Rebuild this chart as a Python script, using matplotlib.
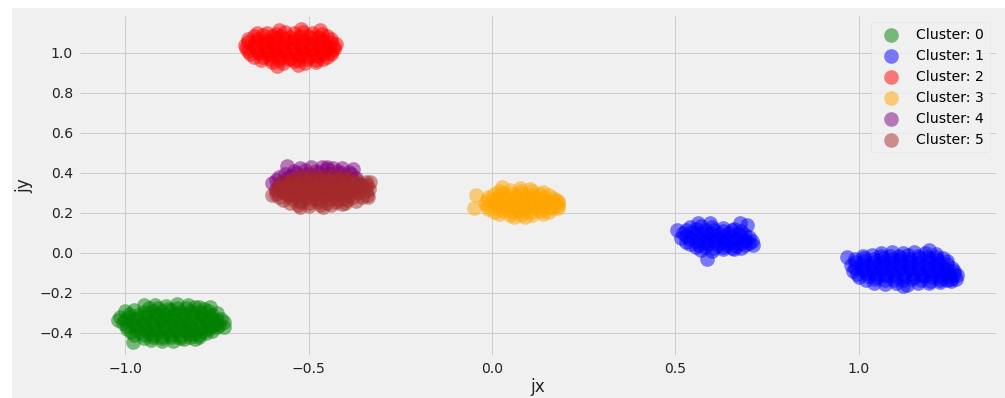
import matplotlib
matplotlib.use("Agg")
import matplotlib.pyplot as plt
from matplotlib.patches import Rectangle

plt.style.use("fivethirtyeight")

# ---- point coordinates (jx, jy) for each cluster ----
cluster_0 = [
    (-0.95, -0.262), (-0.92, -0.258), (-0.89, -0.265), (-0.86, -0.256), (-0.83, -0.262), (-0.80, -0.268), (-0.77, -0.272),
    (-1.00, -0.292), (-0.975, -0.287), (-0.95, -0.295), (-0.925, -0.288), (-0.90, -0.291), (-0.875, -0.286),
    (-0.85, -0.294), (-0.825, -0.289), (-0.80, -0.296), (-0.775, -0.290), (-0.75, -0.298),
    (-1.015, -0.322), (-0.99, -0.318), (-0.965, -0.325), (-0.94, -0.320), (-0.915, -0.316), (-0.89, -0.324),
    (-0.865, -0.319), (-0.84, -0.326), (-0.815, -0.321), (-0.79, -0.317), (-0.765, -0.325), (-0.74, -0.330),
    (-1.005, -0.352), (-0.98, -0.348), (-0.955, -0.355), (-0.93, -0.350), (-0.905, -0.346), (-0.88, -0.354),
    (-0.855, -0.349), (-0.83, -0.356), (-0.805, -0.351), (-0.78, -0.347), (-0.755, -0.355), (-0.73, -0.345),
    (-0.995, -0.382), (-0.97, -0.378), (-0.945, -0.385), (-0.92, -0.380), (-0.895, -0.376), (-0.87, -0.384),
    (-0.845, -0.379), (-0.82, -0.386), (-0.795, -0.381), (-0.77, -0.377), (-0.75, -0.372),
    (-0.975, -0.410), (-0.95, -0.412), (-0.925, -0.408), (-0.90, -0.415), (-0.875, -0.410), (-0.85, -0.413),
    (-0.825, -0.406), (-0.80, -0.409), (-0.78, -0.400),
    (-0.93, -0.435), (-0.90, -0.440), (-0.87, -0.438), (-0.84, -0.432), (-0.81, -0.428),
    (-0.98, -0.445), (-1.02, -0.335), (-0.73, -0.370),
    (-0.935, -0.276), (-0.91, -0.273), (-0.885, -0.278), (-0.86, -0.274), (-0.835, -0.277), (-0.81, -0.272), (-0.785, -0.279),
    (-0.99, -0.305), (-0.965, -0.308), (-0.94, -0.303), (-0.915, -0.306), (-0.89, -0.309), (-0.865, -0.304),
    (-0.84, -0.307), (-0.815, -0.302), (-0.79, -0.306), (-0.765, -0.310),
    (-1.00, -0.336), (-0.975, -0.333), (-0.95, -0.338), (-0.925, -0.334), (-0.90, -0.337), (-0.875, -0.332),
    (-0.85, -0.336), (-0.825, -0.339), (-0.80, -0.334), (-0.775, -0.337), (-0.75, -0.333),
    (-0.995, -0.366), (-0.97, -0.363), (-0.945, -0.368), (-0.92, -0.364), (-0.895, -0.367), (-0.87, -0.362),
    (-0.845, -0.366), (-0.82, -0.369), (-0.795, -0.364), (-0.77, -0.367), (-0.745, -0.360),
    (-0.985, -0.396), (-0.96, -0.393), (-0.935, -0.398), (-0.91, -0.394), (-0.885, -0.397), (-0.86, -0.392),
    (-0.835, -0.396), (-0.81, -0.399), (-0.785, -0.392), (-0.765, -0.388),
    (-0.95, -0.423), (-0.925, -0.420), (-0.90, -0.425), (-0.875, -0.421), (-0.85, -0.424), (-0.825, -0.419), (-0.80, -0.418),
]

cluster_1 = [
    # group near (0.6, 0.07)
    (0.54, 0.130), (0.57, 0.135), (0.60, 0.128), (0.63, 0.126), (0.66, 0.120),
    (0.52, 0.100), (0.545, 0.105), (0.57, 0.098), (0.595, 0.102), (0.62, 0.097), (0.645, 0.100), (0.67, 0.095), (0.69, 0.092),
    (0.515, 0.075), (0.54, 0.070), (0.565, 0.074), (0.59, 0.068), (0.615, 0.072), (0.64, 0.066), (0.665, 0.070),
    (0.69, 0.064), (0.71, 0.060),
    (0.54, 0.045), (0.565, 0.040), (0.59, 0.044), (0.615, 0.038), (0.64, 0.042), (0.665, 0.036), (0.69, 0.040),
    (0.57, 0.015), (0.60, 0.012), (0.63, 0.018), (0.66, 0.020),
    (0.505, 0.115), (0.562, 0.150), (0.595, 0.150), (0.695, 0.140), (0.676, 0.150), (0.712, 0.040), (0.586, -0.030),
    (0.53, 0.115), (0.555, 0.118), (0.58, 0.113), (0.605, 0.116), (0.63, 0.112), (0.655, 0.114), (0.68, 0.110),
    (0.53, 0.085), (0.555, 0.088), (0.58, 0.083), (0.605, 0.086), (0.63, 0.082), (0.655, 0.085), (0.68, 0.080), (0.70, 0.078),
    (0.53, 0.057), (0.555, 0.060), (0.58, 0.055), (0.605, 0.058), (0.63, 0.054), (0.655, 0.056), (0.68, 0.052), (0.70, 0.050),
    (0.555, 0.028), (0.58, 0.030), (0.605, 0.026), (0.63, 0.029), (0.655, 0.025), (0.68, 0.027),
    # group near (1.11, -0.075)
    (1.06, 0.000), (1.09, 0.005), (1.12, -0.002), (1.15, 0.004), (1.18, 0.000), (1.21, -0.005),
    (0.99, -0.030), (1.015, -0.025), (1.04, -0.032), (1.065, -0.027), (1.09, -0.030), (1.115, -0.024),
    (1.14, -0.031), (1.165, -0.026), (1.19, -0.030), (1.215, -0.035), (1.24, -0.040),
    (0.98, -0.060), (1.005, -0.055), (1.03, -0.062), (1.055, -0.057), (1.08, -0.060), (1.105, -0.054),
    (1.13, -0.061), (1.155, -0.056), (1.18, -0.060), (1.205, -0.065), (1.23, -0.070), (1.255, -0.075),
    (0.985, -0.090), (1.01, -0.085), (1.035, -0.092), (1.06, -0.087), (1.085, -0.090), (1.11, -0.084),
    (1.135, -0.091), (1.16, -0.086), (1.185, -0.090), (1.21, -0.095), (1.235, -0.100), (1.26, -0.105),
    (1.00, -0.120), (1.025, -0.115), (1.05, -0.122), (1.075, -0.117), (1.10, -0.120), (1.125, -0.114),
    (1.15, -0.121), (1.175, -0.116), (1.20, -0.120), (1.225, -0.125), (1.25, -0.128),
    (1.04, -0.150), (1.07, -0.155), (1.10, -0.152), (1.13, -0.158), (1.16, -0.150), (1.19, -0.148), (1.22, -0.145),
    (0.968, -0.020), (1.268, -0.110), (1.265, -0.130), (1.12, -0.165), (1.19, 0.015), (1.25, -0.140),
    (1.01, -0.015), (1.035, -0.012), (1.06, -0.017), (1.085, -0.013), (1.11, -0.016), (1.135, -0.011),
    (1.16, -0.015), (1.185, -0.018), (1.21, -0.020), (1.23, -0.024),
    (0.99, -0.045), (1.015, -0.042), (1.04, -0.047), (1.065, -0.043), (1.09, -0.046), (1.115, -0.041),
    (1.14, -0.045), (1.165, -0.048), (1.19, -0.044), (1.215, -0.050), (1.24, -0.055),
    (0.99, -0.075), (1.015, -0.072), (1.04, -0.077), (1.065, -0.073), (1.09, -0.076), (1.115, -0.071),
    (1.14, -0.075), (1.165, -0.078), (1.19, -0.074), (1.215, -0.080), (1.24, -0.085), (1.26, -0.090),
    (0.995, -0.105), (1.02, -0.102), (1.045, -0.107), (1.07, -0.103), (1.095, -0.106), (1.12, -0.101),
    (1.145, -0.105), (1.17, -0.108), (1.195, -0.104), (1.22, -0.110), (1.245, -0.115),
    (1.02, -0.135), (1.045, -0.132), (1.07, -0.137), (1.095, -0.133), (1.12, -0.136), (1.145, -0.131),
    (1.17, -0.135), (1.195, -0.138), (1.22, -0.134), (1.24, -0.136),
]

cluster_2 = [
    (-0.64, 1.098), (-0.615, 1.102), (-0.59, 1.096), (-0.565, 1.104), (-0.54, 1.099), (-0.515, 1.106),
    (-0.49, 1.100), (-0.465, 1.095), (-0.52, 1.120), (-0.58, 1.115), (-0.47, 1.115),
    (-0.665, 1.068), (-0.64, 1.072), (-0.615, 1.066), (-0.59, 1.074), (-0.565, 1.069), (-0.54, 1.071),
    (-0.515, 1.065), (-0.49, 1.073), (-0.465, 1.068), (-0.44, 1.072),
    (-0.675, 1.042), (-0.65, 1.038), (-0.625, 1.045), (-0.60, 1.040), (-0.575, 1.036), (-0.55, 1.044),
    (-0.525, 1.039), (-0.50, 1.046), (-0.475, 1.041), (-0.45, 1.037), (-0.425, 1.045),
    (-0.665, 1.012), (-0.64, 1.008), (-0.615, 1.015), (-0.59, 1.010), (-0.565, 1.006), (-0.54, 1.014),
    (-0.515, 1.009), (-0.49, 1.016), (-0.465, 1.011), (-0.44, 1.007), (-0.43, 1.020),
    (-0.65, 0.982), (-0.625, 0.978), (-0.60, 0.985), (-0.575, 0.980), (-0.55, 0.976), (-0.525, 0.984),
    (-0.50, 0.979), (-0.475, 0.986), (-0.45, 0.981),
    (-0.60, 0.955), (-0.57, 0.950), (-0.54, 0.958), (-0.51, 0.952), (-0.48, 0.956),
    (-0.586, 0.935), (-0.53, 0.940),
    (-0.65, 1.085), (-0.625, 1.088), (-0.60, 1.083), (-0.575, 1.086), (-0.55, 1.082), (-0.525, 1.087),
    (-0.50, 1.084), (-0.475, 1.081), (-0.45, 1.086),
    (-0.665, 1.055), (-0.64, 1.058), (-0.615, 1.053), (-0.59, 1.056), (-0.565, 1.052), (-0.54, 1.057),
    (-0.515, 1.054), (-0.49, 1.051), (-0.465, 1.056), (-0.44, 1.053),
    (-0.67, 1.025), (-0.645, 1.028), (-0.62, 1.023), (-0.595, 1.026), (-0.57, 1.022), (-0.545, 1.027),
    (-0.52, 1.024), (-0.495, 1.021), (-0.47, 1.026), (-0.445, 1.023), (-0.43, 1.030),
    (-0.66, 0.995), (-0.635, 0.998), (-0.61, 0.993), (-0.585, 0.996), (-0.56, 0.992), (-0.535, 0.997),
    (-0.51, 0.994), (-0.485, 0.991), (-0.46, 0.996), (-0.44, 0.993),
    (-0.63, 0.967), (-0.605, 0.970), (-0.58, 0.965), (-0.555, 0.968), (-0.53, 0.964), (-0.505, 0.969),
    (-0.48, 0.966), (-0.46, 0.968),
]

cluster_3 = [
    (0.02, 0.310), (0.05, 0.315), (0.08, 0.308), (0.11, 0.312), (0.14, 0.305), (0.027, 0.330), (0.075, 0.325), (0.104, 0.320),
    (-0.01, 0.280), (0.015, 0.285), (0.04, 0.278), (0.065, 0.283), (0.09, 0.279), (0.115, 0.286), (0.14, 0.280), (0.165, 0.275),
    (-0.02, 0.250), (0.005, 0.255), (0.03, 0.248), (0.055, 0.253), (0.08, 0.249), (0.105, 0.256), (0.13, 0.250),
    (0.155, 0.254), (0.18, 0.248),
    (-0.01, 0.220), (0.015, 0.225), (0.04, 0.218), (0.065, 0.223), (0.09, 0.219), (0.115, 0.226), (0.14, 0.220),
    (0.165, 0.224), (0.18, 0.225),
    (0.02, 0.195), (0.05, 0.190), (0.08, 0.188), (0.11, 0.192), (0.14, 0.195),
    (-0.045, 0.290), (-0.05, 0.225), (0.18, 0.260), (0.06, 0.178), (0.09, 0.180),
    (0.005, 0.295), (0.03, 0.298), (0.055, 0.293), (0.08, 0.296), (0.105, 0.292), (0.13, 0.297), (0.155, 0.290),
    (-0.015, 0.265), (0.01, 0.268), (0.035, 0.263), (0.06, 0.266), (0.085, 0.262), (0.11, 0.267),
    (0.135, 0.264), (0.16, 0.261), (0.175, 0.266),
    (-0.015, 0.235), (0.01, 0.238), (0.035, 0.233), (0.06, 0.236), (0.085, 0.232), (0.11, 0.237),
    (0.135, 0.234), (0.16, 0.231), (0.18, 0.236),
    (0.005, 0.207), (0.03, 0.210), (0.055, 0.205), (0.08, 0.208), (0.105, 0.204), (0.13, 0.209), (0.155, 0.206),
]

cluster_4 = [
    (-0.54, 0.410), (-0.51, 0.415), (-0.48, 0.410), (-0.45, 0.418), (-0.42, 0.412), (-0.39, 0.405),
    (-0.56, 0.435), (-0.465, 0.430), (-0.435, 0.425), (-0.38, 0.420),
    (-0.58, 0.380), (-0.55, 0.385), (-0.52, 0.380), (-0.49, 0.386), (-0.46, 0.382), (-0.43, 0.385), (-0.40, 0.380), (-0.37, 0.375),
    (-0.60, 0.350), (-0.57, 0.355), (-0.54, 0.350), (-0.51, 0.352), (-0.48, 0.348), (-0.45, 0.355), (-0.42, 0.350),
    (-0.39, 0.352), (-0.36, 0.345),
    (-0.59, 0.320), (-0.56, 0.325), (-0.53, 0.320), (-0.50, 0.318), (-0.47, 0.322), (-0.44, 0.325), (-0.41, 0.320), (-0.38, 0.318),
    (-0.55, 0.290), (-0.52, 0.295), (-0.49, 0.288), (-0.46, 0.292), (-0.43, 0.290), (-0.40, 0.295),
    (-0.525, 0.425), (-0.495, 0.428), (-0.45, 0.430), (-0.41, 0.424),
    (-0.565, 0.395), (-0.535, 0.398), (-0.505, 0.394), (-0.475, 0.399), (-0.445, 0.396), (-0.415, 0.400), (-0.385, 0.393),
    (-0.59, 0.365), (-0.56, 0.368), (-0.53, 0.364), (-0.50, 0.367), (-0.47, 0.363), (-0.44, 0.368), (-0.41, 0.365), (-0.38, 0.362),
    (-0.58, 0.335), (-0.55, 0.338), (-0.52, 0.334), (-0.49, 0.337), (-0.46, 0.333), (-0.43, 0.338), (-0.40, 0.335), (-0.37, 0.332),
    (-0.57, 0.305), (-0.54, 0.308), (-0.51, 0.304), (-0.48, 0.307), (-0.45, 0.303), (-0.42, 0.308), (-0.39, 0.305),
]

cluster_5 = [
    (-0.52, 0.385), (-0.49, 0.390), (-0.46, 0.383), (-0.43, 0.388), (-0.40, 0.382),
    (-0.57, 0.355), (-0.545, 0.360), (-0.52, 0.352), (-0.495, 0.358), (-0.47, 0.354), (-0.445, 0.360),
    (-0.42, 0.353), (-0.395, 0.357), (-0.37, 0.352), (-0.345, 0.356),
    (-0.585, 0.325), (-0.56, 0.330), (-0.535, 0.322), (-0.51, 0.328), (-0.485, 0.324), (-0.46, 0.330),
    (-0.435, 0.323), (-0.41, 0.327), (-0.385, 0.322), (-0.36, 0.328), (-0.335, 0.320),
    (-0.59, 0.295), (-0.565, 0.300), (-0.54, 0.292), (-0.515, 0.298), (-0.49, 0.294), (-0.465, 0.300),
    (-0.44, 0.293), (-0.415, 0.297), (-0.39, 0.292), (-0.365, 0.298), (-0.34, 0.290),
    (-0.57, 0.265), (-0.545, 0.270), (-0.52, 0.262), (-0.495, 0.268), (-0.47, 0.264), (-0.445, 0.270),
    (-0.42, 0.263), (-0.395, 0.267), (-0.37, 0.262),
    (-0.53, 0.240), (-0.50, 0.236), (-0.47, 0.242), (-0.44, 0.238), (-0.41, 0.244),
    (-0.333, 0.355), (-0.338, 0.280), (-0.60, 0.290), (-0.524, 0.230), (-0.46, 0.232),
    (-0.545, 0.370), (-0.52, 0.373), (-0.495, 0.368), (-0.47, 0.372), (-0.445, 0.367), (-0.42, 0.371),
    (-0.395, 0.369), (-0.37, 0.366),
    (-0.58, 0.340), (-0.555, 0.343), (-0.53, 0.338), (-0.505, 0.342), (-0.48, 0.337), (-0.455, 0.341),
    (-0.43, 0.339), (-0.405, 0.336), (-0.38, 0.341), (-0.355, 0.338), (-0.34, 0.340),
    (-0.59, 0.310), (-0.57, 0.313), (-0.545, 0.308), (-0.52, 0.312), (-0.495, 0.307), (-0.47, 0.311),
    (-0.445, 0.309), (-0.42, 0.306), (-0.395, 0.311), (-0.37, 0.308), (-0.345, 0.310),
    (-0.58, 0.280), (-0.555, 0.283), (-0.53, 0.278), (-0.505, 0.282), (-0.48, 0.277), (-0.455, 0.281),
    (-0.43, 0.279), (-0.405, 0.276), (-0.38, 0.281), (-0.355, 0.278),
    (-0.55, 0.252), (-0.525, 0.255), (-0.50, 0.250), (-0.475, 0.254), (-0.45, 0.249), (-0.425, 0.253), (-0.40, 0.251),
]

cluster_ids = [0, 1, 2, 3, 4, 5]
cluster_data = [cluster_0, cluster_1, cluster_2, cluster_3, cluster_4, cluster_5]
cluster_colors = ["green", "blue", "red", "orange", "purple", "brown"]

x_ticks = [-1.0, -0.5, 0.0, 0.5, 1.0]
y_ticks = [-0.4, -0.2, 0.0, 0.2, 0.4, 0.6, 0.8, 1.0]

# ---- figure ----
W, H, DPI = 1005, 398, 72
fig = plt.figure(figsize=(W / DPI, H / DPI), dpi=DPI)
fig.patch.set_facecolor("white")
fig.patches.append(Rectangle((12 / W, 0), 1 - 12 / W, 1 - 8 / H, transform=fig.transFigure,
                             facecolor="#f0f0f0", edgecolor="none", zorder=-10))

ax = fig.add_axes([80 / W, 43 / H, (996 - 80) / W, (355 - 16) / H])
ax.set_facecolor("#f0f0f0")

for cid, pts, col in zip(cluster_ids, cluster_data, cluster_colors):
    xs = [p[0] for p in pts]
    ys = [p[1] for p in pts]
    ax.scatter(xs, ys, s=215, c=col, alpha=0.5, linewidths=0, label=f"Cluster: {cid}")

ax.set_xlim(-1.1236, 1.374)
ax.set_ylim(-0.51, 1.185)
ax.set_xticks(x_ticks)
ax.set_yticks(y_ticks)
ax.tick_params(axis="both", labelsize=14, length=0, colors="#222222")
ax.tick_params(axis="x", pad=7)
ax.tick_params(axis="y", pad=7)
ax.grid(True, color="#cbcbcb", linewidth=1.0)
ax.set_axisbelow(True)
for sp in ax.spines.values():
    sp.set_visible(False)

ax.set_xlabel("jx", fontsize=17, color="#222222", labelpad=2)
ax.set_ylabel("jy", fontsize=17, color="#222222", labelpad=6)

leg = ax.legend(loc="upper right", fontsize=14, frameon=True, borderaxespad=0.45)
leg.get_frame().set_facecolor("#f0f0f0")
leg.get_frame().set_edgecolor("#dddddd")

fig.savefig("out.png", dpi=DPI, facecolor=fig.get_facecolor())
